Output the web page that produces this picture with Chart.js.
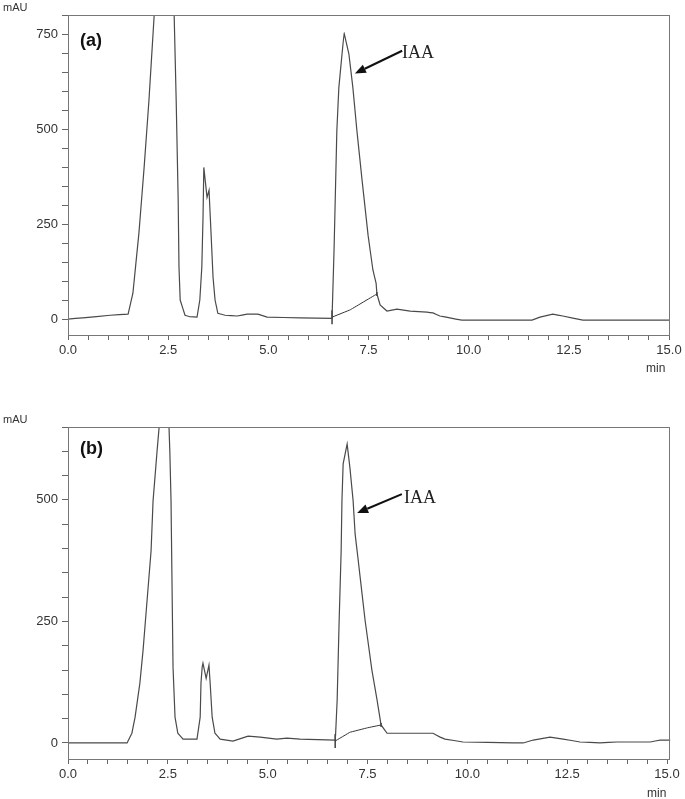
<!DOCTYPE html>
<html><head><meta charset="utf-8">
<script src="https://cdn.jsdelivr.net/npm/chart.js@4.4.0/dist/chart.umd.min.js"></script>
<style>
html,body{margin:0;padding:0;background:#fff;}
#wrap{position:relative;width:685px;height:799px;overflow:hidden;background:#fff;}
canvas{position:absolute;left:0;}
.t{position:absolute;white-space:nowrap;font-family:'Liberation Sans',Arial,sans-serif;color:#333;}
.s{font-family:'Liberation Serif','Times New Roman',serif;color:#222;font-size:18px;line-height:20px;}
.p{font-weight:bold;font-size:18px;line-height:20px;color:#111;}
.u{font-size:11px;line-height:12px;}
.m{font-size:12px;line-height:14px;}
</style></head><body>
<div id="wrap">
<canvas id="ca" width="685" height="380" style="top:0"></canvas>
<canvas id="cb" width="685" height="419" style="top:380px"></canvas>
<div class="t u" style="left:3px;top:1px">mAU</div>
<div class="t p" style="left:80px;top:30px">(a)</div>
<div class="t s" style="left:402px;top:42px">IAA</div>
<div class="t m" style="left:646px;top:361px">min</div>
<div class="t u" style="left:3px;top:413px">mAU</div>
<div class="t p" style="left:80px;top:438px">(b)</div>
<div class="t s" style="left:404px;top:487px">IAA</div>
<div class="t m" style="left:647px;top:786px">min</div>
</div>
<script>
// ---- data ----
const timeA = [0.00,0.37,1.05,1.50,1.62,1.77,1.90,2.02,2.15,2.50,2.65,2.70,2.75,2.77,2.80,2.92,3.04,3.22,3.29,3.34,3.37,3.39,3.47,3.52,3.57,3.62,3.67,3.74,3.92,4.22,4.47,4.74,4.97,5.79,6.59,6.64,6.71,6.76,6.84,6.89,7.01,7.11,7.21,7.34,7.49,7.61,7.69,7.71,7.79,7.96,8.21,8.54,8.96,9.11,9.28,9.53,9.83,11.58,11.78,12.10,12.35,12.85,15.00,15.35];
const signalA = [0,3,10,13,68,226,399,575,798,1400,798,575,312,137,50,10,6,5,50,137,268,399,320,339,226,110,50,15,10,8,13,13,5,3,2,181,496,609,698,753,698,609,496,365,220,129,94,66,37,21,26,21,18,16,8,3,-3,-3,5,13,8,-3,-3,-18];
const timeB = [0.00,1.48,1.60,1.68,1.80,1.88,1.98,2.08,2.13,2.23,2.28,2.44,2.53,2.55,2.58,2.60,2.63,2.68,2.75,2.88,3.23,3.31,3.33,3.36,3.38,3.46,3.53,3.56,3.61,3.68,3.81,4.13,4.51,4.81,5.23,5.48,5.81,6.69,6.70,6.74,6.79,6.84,6.86,6.89,6.99,7.06,7.14,7.19,7.26,7.44,7.61,7.74,7.84,7.99,8.24,9.14,9.32,9.44,9.89,11.14,11.40,11.65,12.07,12.40,12.82,13.32,13.75,14.58,14.83,15.08,15.40];
const signalB = [0,0,20,53,123,191,293,395,498,600,648,860,648,600,498,361,156,53,20,8,8,53,123,156,164,133,160,123,53,20,8,4,14,12,8,10,8,6,16,88,252,395,498,574,615,566,498,430,381,252,150,88,37,20,20,20,12,8,2,0,0,6,12,8,2,0,2,2,6,6,-10];
const intTimeA = [6.59,7.04,7.71];
const intSignalA = [5,24,66];
const intTimeB = [6.69,7.06,7.49,7.84];
const intSignalB = [4,22,31,37];
const xMajorTicks = [0,2.5,5,7.5,10,12.5,15];
const xTickLabels = ['0.0','2.5','5.0','7.5','10.0','12.5','15.0'];
const yMajorTicksA = [0,250,500,750];
const yTickLabelsA = ['0','250','500','750'];
const yMajorTicksB = [0,250,500];
const yTickLabelsB = ['0','250','500'];

function pts(xs, ys){ return xs.map((x,i)=>({x:x, y:ys[i]})); }
function range(a,b,s){ const r=[]; for(let v=a; v<=b+1e-9; v+=s) r.push(Math.round(v*100)/100); return r; }

const framePlugin = { id:'frame', afterDraw(chart){
  const a=chart.chartArea, c=chart.ctx; c.save(); c.strokeStyle='#777'; c.lineWidth=1;
  c.strokeRect(Math.round(a.left)+0.5, Math.round(a.top)+0.5, Math.round(a.right-a.left), Math.round(a.bottom-a.top));
  c.restore(); } };
const arrowPlugin = { id:'arrow', afterDatasetsDraw(chart, args, o){
  if(!o || !o.from) return;
  const xs=chart.scales.x, ys=chart.scales.y, c=chart.ctx;
  const x1=xs.getPixelForValue(o.from[0]), y1=ys.getPixelForValue(o.from[1]);
  const x2=xs.getPixelForValue(o.to[0]), y2=ys.getPixelForValue(o.to[1]);
  const ang=Math.atan2(y2-y1,x2-x1), L=11, W=4.5;
  const bx=x2-L*Math.cos(ang), by=y2-L*Math.sin(ang);
  c.save(); c.strokeStyle='#111'; c.fillStyle='#111'; c.lineWidth=2;
  c.beginPath(); c.moveTo(x1,y1); c.lineTo(bx,by); c.stroke();
  c.beginPath(); c.moveTo(x2,y2);
  c.lineTo(bx+W*Math.sin(ang), by-W*Math.cos(ang));
  c.lineTo(bx-W*Math.sin(ang), by+W*Math.cos(ang)); c.closePath(); c.fill();
  c.restore(); } };

const tickFont = {family:"'Liberation Sans', Arial, sans-serif", size:13};

function makeChart(id, o){
  return new Chart(document.getElementById(id), {
    type:'line',
    data:{ datasets:[
      { data: pts(o.t, o.v), borderColor:'#4a4a4a', borderWidth:1.2, pointRadius:0, tension:0.0001,
        clip:{left:0, top:0, right:20, bottom:0} },
      { data: pts(o.it, o.iv), borderColor:'#333', borderWidth:1, tension:0.0001,
        pointStyle:'line', rotation:90, pointRadius:o.it.map((_,i)=>i===0?7:(i===o.it.length-1?2:0)),
        pointBorderColor:'#222', pointBorderWidth:1.3, clip:false }
    ]},
    options:{
      responsive:false, animation:false, events:[],
      elements:{ line:{ capBezierPoints:false } },
      layout:{ padding:{ top:o.padTop, right:16, left:0, bottom:0 } },
      plugins:{ legend:{display:false}, tooltip:{enabled:false}, arrow:o.arrow },
      scales:{
        x:{ type:'linear', min:0, max:o.xMax,
          afterBuildTicks:s=>{ s.ticks = range(0,15,0.5).map(v=>({value:v})); },
          afterFit:s=>{ s.height=o.xH; },
          ticks:{ autoSkip:false, maxRotation:0, padding:3, color:'#333', font:tickFont,
            callback:v=>{ const i=xMajorTicks.indexOf(v); return i>=0 ? xTickLabels[i] : ''; } },
          grid:{ drawOnChartArea:false, drawTicks:true, tickLength:5, color:'#666' },
          border:{ display:true, color:'#777' } },
        y:{ type:'linear', min:o.yMin, max:o.yMax,
          afterBuildTicks:s=>{ s.ticks = range(0,o.yMax,50).map(v=>({value:v})); },
          afterFit:s=>{ s.width=68; },
          ticks:{ autoSkip:false, padding:4, color:'#333', font:tickFont,
            callback:v=>{ const i=o.yMaj.indexOf(v); return i>=0 ? o.yLab[i] : ''; } },
          grid:{ drawOnChartArea:false, drawTicks:true, tickLength:6, color:'#666' },
          border:{ display:true, color:'#777' } }
      }
    },
    plugins:[framePlugin, arrowPlugin]
  });
}

makeChart('ca', { t:timeA, v:signalA, it:intTimeA, iv:intSignalA, xMax:15, yMin:-42, yMax:800,
  padTop:15, xH:45, yMaj:yMajorTicksA, yLab:yTickLabelsA,
  arrow:{ from:[8.34,706], to:[7.16,646] } });
makeChart('cb', { t:timeB, v:signalB, it:intTimeB, iv:intSignalB, xMax:15.05, yMin:-33, yMax:650,
  padTop:47, xH:40, yMaj:yMajorTicksB, yLab:yTickLabelsB,
  arrow:{ from:[8.36,512], to:[7.24,473] } });
</script>
</body></html>
